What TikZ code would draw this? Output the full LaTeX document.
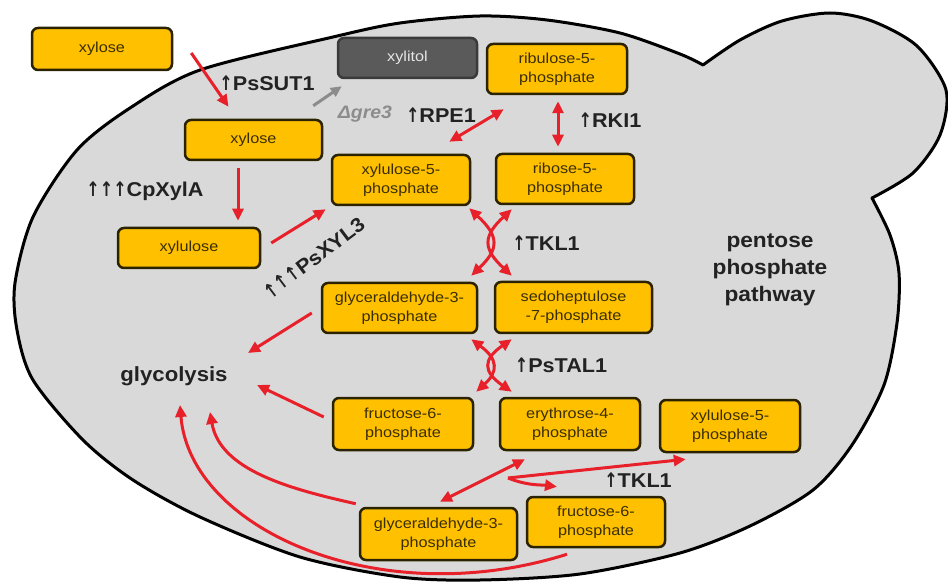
\documentclass[tikz,border=0pt]{standalone}
\usepackage{fontspec}
\usepackage{graphicx}
\setmainfont{Liberation Sans}
\newfontfamily\boxfont[FakeStretch=1.12]{Liberation Sans}
\newfontfamily\labfont[FakeStretch=1.08]{Liberation Sans}
\newfontfamily\arrfont{DejaVu Sans}
\usetikzlibrary{arrows.meta,calc}
\definecolor{cellgray}{HTML}{D9D9D9}
\definecolor{boxfill}{HTML}{FFC000}
\definecolor{boxline}{HTML}{2A2200}
\definecolor{boxtext}{HTML}{3A2E00}
\definecolor{rarrow}{HTML}{E8202A}
\definecolor{labtext}{HTML}{222222}
\definecolor{xylfill}{HTML}{5A5A5A}
\definecolor{xylline}{HTML}{3A3A3A}
\definecolor{grearrow}{HTML}{8C8C8C}
\newcommand{\myup}{{\arrfont\scalebox{0.8}[1]{↑}}}
\begin{document}
\begin{tikzpicture}[x=1pt,y=-1pt,
  metab/.style={draw=boxline, fill=boxfill, line width=2.5pt, rounded corners=6pt,
    inner sep=0pt, align=center, text=boxtext,
    font=\boxfont\fontsize{14.5}{19}\selectfont},
  lab/.style={text=labtext, inner sep=0pt, font=\labfont\bfseries\fontsize{20}{24}\selectfont},
  tipr/.tip={Triangle[length=12pt,width=11pt]},
  rarr/.style={draw=rarrow, line width=3pt, -tipr},
  rboth/.style={draw=rarrow, line width=3pt, tipr-tipr},
  garr/.style={draw=grearrow, line width=3pt, -{Triangle[length=11pt,width=10pt]}}
]
\useasboundingbox (0,0) rectangle (948,585);
\fill[white] (0,0) rectangle (948,585);

% cell
\filldraw[fill=cellgray, draw=black, line width=3pt, line join=round]
  plot[smooth] coordinates {(703,65) (680,54) (620,33) (547,20) (480,16) (400,23) (333,37)
    (200,70) (130,108) (77,150) (33,217) (15,283) (17,330) (33,380) (83,440) (133,480)
    (200,517) (300,557) (400,577) (480,580) (580,574) (680,553) (750,526) (813,490)
    (852,445) (884,385) (897,323) (899,273) (890,235) (872,198)}
  -- plot[smooth] coordinates {(872,198) (913,173) (940,135) (946,90) (917,46) (872,21)
    (830,13) (782,21) (740,40) (703,65)}
  -- cycle;

% nodes
\node[metab, minimum width=140pt, minimum height=42pt] (xo) at (102,49) {xylose};
\node[draw=xylline, fill=xylfill, line width=2.5pt, rounded corners=6pt, inner sep=0pt,
  text=white!90!black, font=\boxfont\fontsize{14.5}{19}\selectfont,
  minimum width=139pt, minimum height=40pt] (xyl) at (407.5,58) {xylitol};
\node[metab, minimum width=140pt, minimum height=50pt] (ru5p) at (557,69) {ribulose-5-\\phosphate};
\node[metab, minimum width=137pt, minimum height=40pt] (xi) at (253.5,140) {xylose};
\node[metab, minimum width=138pt, minimum height=50pt] (xu5p) at (401,180) {xylulose-5-\\phosphate};
\node[metab, minimum width=138pt, minimum height=50pt] (r5p) at (565,179) {ribose-5-\\phosphate};
\node[metab, minimum width=142pt, minimum height=40pt] (xul) at (189,248) {xylulose};
\node[metab, minimum width=155pt, minimum height=50pt] (g3p) at (399.5,308) {glyceraldehyde-3-\\phosphate};
\node[metab, minimum width=157pt, minimum height=51pt] (s7p) at (573.5,307.5) {sedoheptulose\\-7-phosphate};
\node[metab, minimum width=140pt, minimum height=52pt] (f6p) at (403,424) {fructose-6-\\phosphate};
\node[metab, minimum width=140pt, minimum height=52pt] (e4p) at (570,424) {erythrose-4-\\phosphate};
\node[metab, minimum width=140pt, minimum height=52pt] (xu5pb) at (730,426) {xylulose-5-\\phosphate};
\node[metab, minimum width=157pt, minimum height=52pt] (g3pb) at (438.5,534) {glyceraldehyde-3-\\phosphate};
\node[metab, minimum width=138pt, minimum height=50pt] (f6pb) at (596,522) {fructose-6-\\phosphate};

% labels
\node[lab] (sut) at (267,83) {\myup PsSUT1};
\node[inner sep=0pt, text=grearrow, font=\labfont\bfseries\itshape\fontsize{18}{22}\selectfont] (gre) at (365,114) {Δgre3};
\node[lab] (rpe) at (441,115) {\myup RPE1};
\node[lab] (rki) at (610,120) {\myup RKI1};
\node[lab] (xyla) at (145,191) {\myup\myup\myup CpXylA};
\node[lab, rotate=37] (xyl3) at (314,258) {\myup\myup\myup PsXYL3};
\node[lab] (tkl) at (546,243) {\myup TKL1};
\node[lab] (tal) at (561,365) {\myup PsTAL1};
\node[lab] (tklb) at (638,480) {\myup TKL1};
\node[lab, font=\labfont\bfseries\fontsize{20.5}{24}\selectfont] (glyc) at (174,376) {glycolysis};
\node[lab, align=center, font=\labfont\bfseries\fontsize{21}{27}\selectfont] (ppp) at (770,270) {pentose\\phosphate\\pathway};

% free ends near glycolysis
\coordinate (gl1) at (248,353);
\coordinate (gl2) at (257,385);
\coordinate (gl3) at (210,412);
\coordinate (gl4) at (180,405);
\coordinate (jn) at (508,478);

% arrows
\draw[rarr] ([shift={(18,4)}]xo.east) -- ([shift={(-25,-12)}]xi.north);
\draw[garr] ([shift={(-10,-13)}]xi.north east) -- ([shift={(5,7)}]xyl.south west);
\draw[rarr] ([shift={(-15.5,7)}]xi.south) -- ([shift={(49,-6)}]xul.north);
\draw[rarr] ([shift={(10,-5)}]xul.east) -- ([shift={(-5,3)}]xu5p.south west);
\draw[rboth] ([shift={(-22,-12)}]xu5p.north east) -- ([shift={(18,14)}]ru5p.south west);
\draw[rboth] ([shift={(1,6)}]ru5p.south) -- ([shift={(-7,-6)}]r5p.north);

% TKL1 cross
\coordinate (k1) at ([shift={(-2,2)}]xu5p.south east);
\coordinate (k2) at ([shift={(17,4)}]r5p.south west);
\coordinate (k3) at ([shift={(-7,-6)}]g3p.north east);
\coordinate (k4) at ([shift={(18,-5)}]s7p.north west);
\draw[rboth] (k1) .. controls +(30,28) and +(28,-27) .. (k3);
\draw[rboth] (k2) .. controls +(-29,27) and +(-29,-27) .. (k4);

% PsTAL1 cross
\coordinate (t1) at ([shift={(-7,5)}]g3p.south east);
\coordinate (t2) at ([shift={(18,5)}]s7p.south west);
\coordinate (t3) at ([shift={(2,-5)}]f6p.north east);
\coordinate (t4) at ([shift={(13,-5)}]e4p.north west);
\draw[rboth] (t1) .. controls +(27,20) and +(22,-20) .. (t3);
\draw[rboth] (t2) .. controls +(-29,20) and +(-29,-20) .. (t4);

% to glycolysis
\draw[rarr] ([shift={(-9,5)}]g3p.west) -- (gl1);
\draw[rarr] ([shift={(-8,-7)}]f6p.west) -- (gl2);

% lower TKL1
\draw[rboth] ([shift={(-45,8)}]e4p.south) -- ([shift={(1.5,-5)}]g3pb.north);
\draw[rarr] (jn) -- ([shift={(27,6)}]xu5pb.south west);
\draw[rarr] (jn) .. controls +(20,8) and +(-15,-2) .. ([shift={(-39,-9)}]f6pb.north);

% long curves
\draw[rarr] ([shift={(-3,-3)}]g3pb.north west) .. controls +(-67,-15) and +(10,58) .. (gl3);
\draw[rarr] ([shift={(-29,6)}]f6pb.south) .. controls +(-187,59) and +(10,125) .. (gl4);
\end{tikzpicture}
\end{document}
